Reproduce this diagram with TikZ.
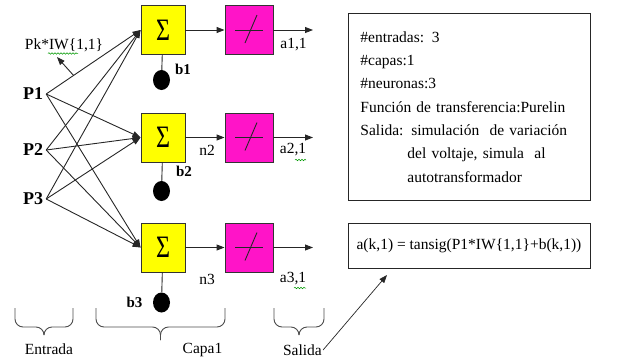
\documentclass[tikz,border=0pt]{standalone}
\usepackage{fontspec}
\setmainfont{Liberation Serif}
\usepackage{tikz}
\usetikzlibrary{arrows.meta}
\usetikzlibrary{shapes.geometric}
\usetikzlibrary{decorations.pathmorphing}

\definecolor{sumyellow}{RGB}{255,255,0}
\definecolor{linpink}{RGB}{255,20,200}

\begin{document}
\begin{tikzpicture}[x=1pt,y=-1pt]
    \tikzstyle{edge}  = [line width=0.9pt,draw=black!85]
    \tikzstyle{dedge} = [edge,->,>={Triangle[length=8pt,width=6pt]}]
    \tikzstyle{sumbox}=[
      draw=black!80,
      line width=0.9pt,
      fill=sumyellow,
      minimum width=44pt,
      minimum height=49pt,
      inner sep=0pt,
    ]
    \tikzstyle{linbox}=[
      sumbox,
      fill=linpink,
      minimum width=48pt,
    ]
    \tikzstyle{bias}=[
      ellipse,
      fill=black,
      minimum width=17pt,
      minimum height=20pt,
      inner sep=0pt,
    ]
    \tikzstyle{lbl}=[inner sep=1pt,font=\fontsize{15.5}{15.5}\selectfont]
    \tikzstyle{inlbl}=[inner sep=3pt,font=\fontsize{18}{18}\selectfont\bfseries]
    \tikzstyle{blbl}=[inner sep=1pt,font=\fontsize{15}{15}\selectfont\bfseries]
    \tikzstyle{textbox}=[draw=black!85,line width=0.9pt,minimum width=242pt]
    \tikzstyle{brc}=[line width=0.9pt,draw=black!70,rounded corners=8pt]
    \tikzstyle{squig}=[draw=green!60!black,line width=0.5pt,decorate,
      decoration={snake,segment length=3pt,amplitude=0.8pt}]

    \useasboundingbox (0,0) rectangle (619,362);

    {
      \node[inlbl] (p1) at (33,94) {P1};
      \node[inlbl] (p2) at (33,150) {P2};
      \node[inlbl] (p3) at (33,199) {P3};

      \node[sumbox] (s1) at (163,30) {\fontsize{24}{24}\selectfont\scalebox{1}[1.3]{Σ}};
      \node[sumbox] (s2) at (163,137.5) {\fontsize{24}{24}\selectfont\scalebox{1}[1.3]{Σ}};
      \node[sumbox] (s3) at (163,247.5) {\fontsize{24}{24}\selectfont\scalebox{1}[1.3]{Σ}};

      \node[linbox] (f1) at (249,30) {};
      \node[linbox] (f2) at (249,137.5) {};
      \node[linbox] (f3) at (249,247.5) {};

      \node[bias] (d1) at (161.5,80) {};
      \node[bias] (d2) at (161.5,191) {};
      \node[bias] (d3) at (161.5,302.5) {};

      \coordinate (o1) at (313,30);
      \coordinate (o2) at (313,137.5);
      \coordinate (o3) at (313,247.5);
    }

    % labels
    {
      \node[blbl] (b1) at (183,69) {b1};
      \node[blbl] (b2) at (184,171) {b2};
      \node[blbl] (b3) at (134.5,302) {b3};

      \node[lbl] (n2) at (207,150) {n2};
      \node[lbl] (n3) at (207,279) {n3};

      \node[lbl] (a1) at (293.5,45) {a1,1};
      \node[lbl] (a2) at (293,150) {a2,1};
      \node[lbl] (a3) at (293,279) {a3,1};

      \node[lbl] (wlbl) at (64,45.5) {Pk*IW\{1,1\}};
      \coordinate (wtip) at (57,57);
    }

    {
      \draw[dedge] (p1.east)--(s1.west);
      \draw[dedge] (p1.east)--(s2.west);
      \draw[dedge] (p1.east)--(s3.west);
      \draw[dedge] (p2.east)--(s1.west);
      \draw[dedge] (p2.east)--(s2.west);
      \draw[dedge] (p2.east)--(s3.west);
      \draw[dedge] (p3.east)--(s1.west);
      \draw[dedge] (p3.east)--(s2.west);
      \draw[dedge] (p3.east)--(s3.west);

      \path (p1.east)--(s1.west) coordinate[pos=0.29] (w11);
      \draw[dedge] (w11)--(wtip);

      \draw[dedge] (s1)--(f1);
      \draw[dedge] (s2)--(f2);
      \draw[dedge] (s3)--(f3);

      \draw[dedge] (f1.east)--(o1);
      \draw[dedge] (f2.east)--(o2);
      \draw[dedge] (f3.east)--(o3);

      \draw[edge] (s1)--(d1);
      \draw[edge] (s2)--(d2);
      \draw[edge] (s3)--(d3);
    }

    % purelin
    {
      \draw[edge] ([xshift=-14pt]f1.center)--([xshift=14pt]f1.center);
      \draw[edge] ([shift={(-4,13)}]f1.center)--([shift={(8,-15)}]f1.center);
      \draw[edge] ([xshift=-14pt]f2.center)--([xshift=14pt]f2.center);
      \draw[edge] ([shift={(-4,13)}]f2.center)--([shift={(8,-15)}]f2.center);
      \draw[edge] ([xshift=-14pt]f3.center)--([xshift=14pt]f3.center);
      \draw[edge] ([shift={(-4,13)}]f3.center)--([shift={(8,-15)}]f3.center);
    }

    % spell check marks
    \draw[squig] (48,53.5)--(78,53.5);
    \draw[squig] (295,160)--(306,160);
    \draw[squig] (294,288)--(306,288);

    % info boxes
    \node[textbox,anchor=north west,minimum height=187pt,text width=218pt,
      inner xsep=12pt,align=left,font=\fontsize{15.5}{23.3}\selectfont] (info) at (348,13)
      {\#entradas: 3\\
       \#capas:1\\
       \#neuronas:3\\
       Función de transferencia:Purelin\\
       Salida: simulación\ \ de variación\\
       \hspace*{47pt}del voltaje, simula\ \ al\\
       \hspace*{47pt}autotransformador};
    \node[textbox,minimum height=45pt,font=\fontsize{15.5}{15.5}\selectfont] (formula) at (469,245.5)
      {a(k,1) = tansig(P1*IW\{1,1\}+b(k,1))};

    % braces
    \draw[brc] (15,308) |- (44,327) -- (44,334);
    \draw[brc] (73,308) |- (44,327) -- (44,334);
    \draw[brc] (96,308) |- (160.5,327) -- (160.5,340);
    \draw[brc] (225,308) |- (160.5,327) -- (160.5,340);
    \draw[brc] (274,308) |- (299,327) -- (299,333);
    \draw[brc] (324,308) |- (299,327) -- (299,333);

    \node[lbl] (entrada) at (49,349) {Entrada};
    \node[lbl] (capa) at (202.5,350) {Capa1};
    \node[lbl] (salida) at (302.5,350) {Salida};

    \coordinate (ftip) at (387,275);
    \draw[dedge,line width=0.7pt] (salida.east)--(ftip);
\end{tikzpicture}
\end{document}
